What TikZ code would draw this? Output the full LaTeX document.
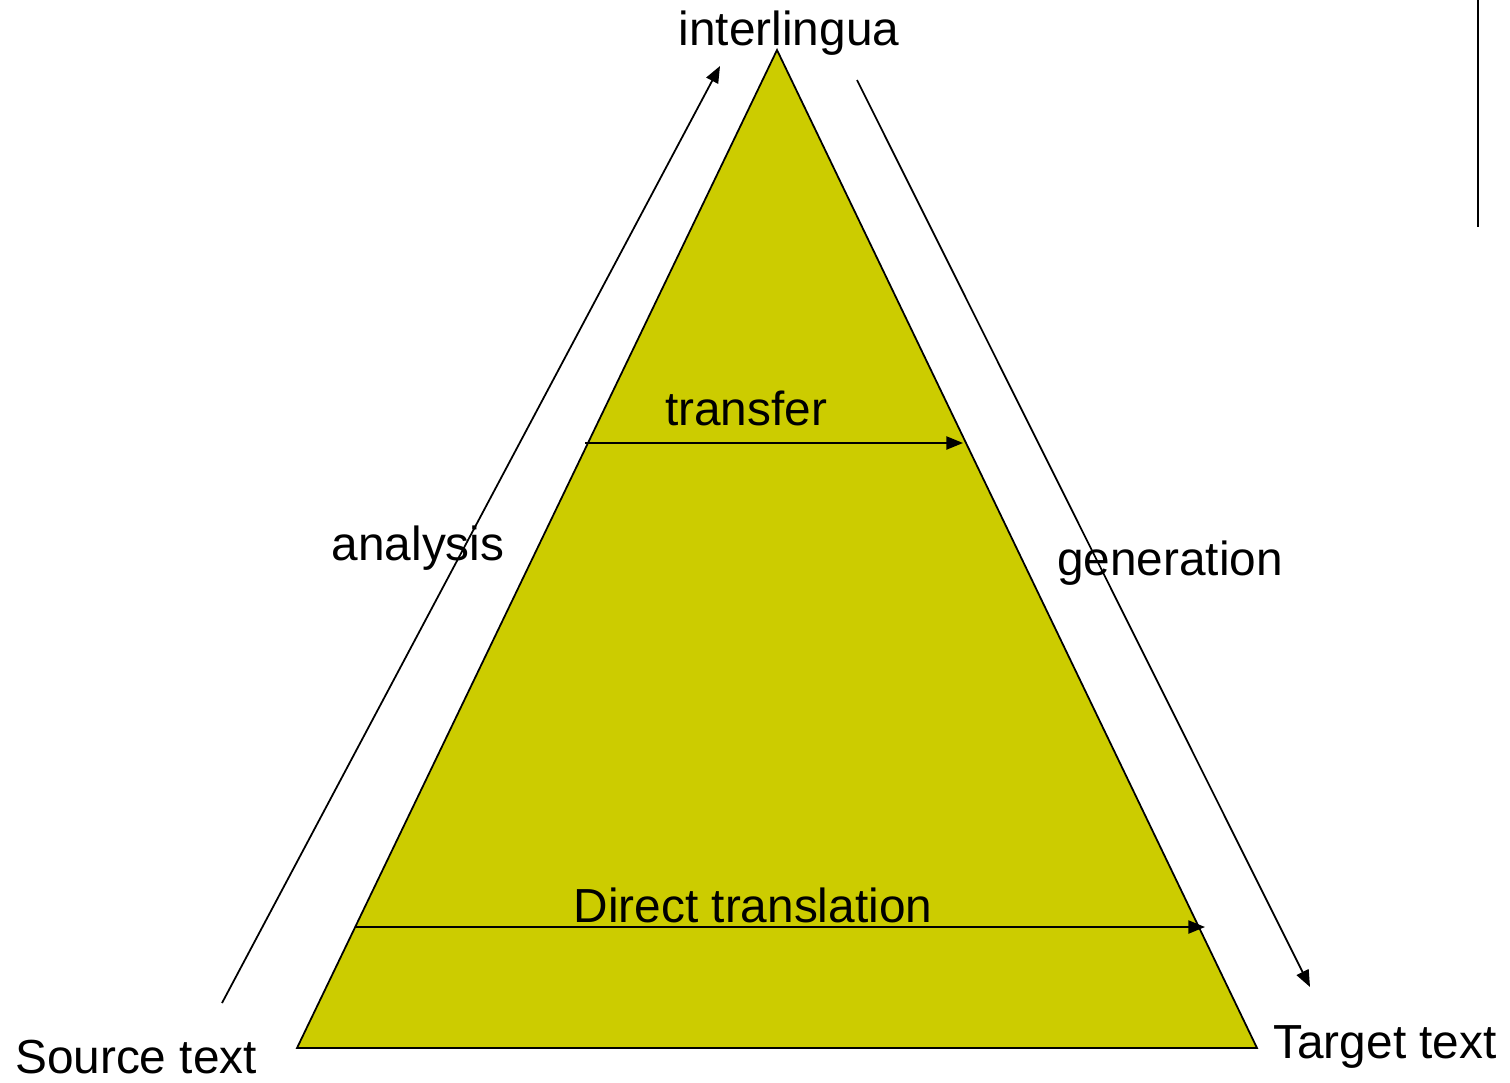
\documentclass[tikz,border=0pt]{standalone}
\usepackage{fontspec}
\setmainfont{Liberation Sans}
\usetikzlibrary{arrows.meta}
\definecolor{pyramid}{RGB}{204,204,0}
\tikzset{
  label/.style={inner sep=0pt,anchor=base,font=\fontsize{27.2}{32}\selectfont},
  route/.style={line width=1pt,-{Triangle[length=9.5pt,width=7.5pt]}}
}
\begin{document}
\begin{tikzpicture}[x=0.02cm,y=-0.02cm]
\useasboundingbox (0,0) rectangle (1510,1082);
% pyramid
\coordinate (top) at (777,50);
\coordinate (left) at (297,1048);
\coordinate (right) at (1257,1048);
\filldraw[fill=pyramid,line width=1pt] (left) -- (top) -- (right) -- cycle;
% levels across the pyramid
\coordinate (ts) at (585,443);
\coordinate (te) at (963,443);
\coordinate (ds) at (356,927);
\coordinate (de) at (1205,927);
\draw[route] (ts) -- (te);
\draw[route] (ds) -- (de);
% up and down the sides
\coordinate (as) at (222,1003);
\coordinate (ae) at (720,66);
\coordinate (gs) at (857,80);
\coordinate (ge) at (1310,987);
\draw[route] (as) -- (ae);
\draw[route] (gs) -- (ge);
\coordinate (bar1) at (1478,0);
\coordinate (bar2) at (1478,227);
\draw[line width=1.1pt] (bar1) -- (bar2);
% texts
\node[label] (inter) at (789,45) {interlingua};
\node[label] (transfer) at (746,425) {transfer};
\node[label] (direct) at (753,922) {Direct translation};
\node[label] (analysis) at (418,560) {analysis};
\node[label] (generation) at (1170,575) {generation};
\node[label] (source) at (136,1073) {Source text};
\node[label] (target) at (1385,1058) {Target text};
\end{tikzpicture}
\end{document}
